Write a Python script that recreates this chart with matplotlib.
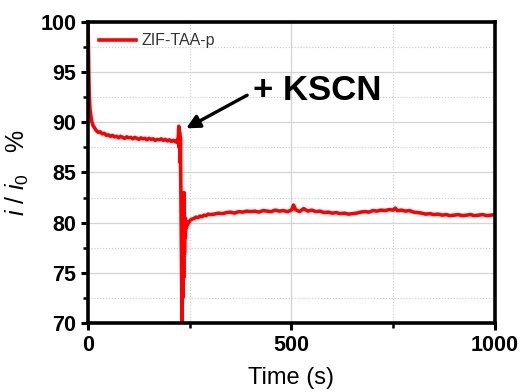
import matplotlib.pyplot as plt
from matplotlib.ticker import MultipleLocator

# Chronoamperometry trace
time_s = [0, 1, 2, 3, 4, 5, 7, 9, 12, 15, 20, 25, 30, 35, 40, 45, 50, 55, 60,
          65, 70, 75, 80, 85, 90, 95, 100, 105, 110, 115, 120, 125, 130, 135,
          140, 145, 150, 155, 160, 165, 170, 175, 180, 185, 190, 195, 200, 205,
          210, 215, 218, 220, 222, 223, 224, 225, 226, 227, 228, 229, 230, 231,
          232, 233, 234, 235, 236, 237, 238, 239, 240, 242, 244, 246, 250, 255,
          260, 265, 270, 275, 280, 285, 290, 295,
          300, 310, 320, 330, 340, 350, 360, 370, 380, 390, 400, 410, 420, 430,
          440, 450, 460, 470, 480, 490, 500, 505, 510, 520, 530, 540, 550, 560,
          570, 580, 590, 600, 610, 620, 630, 640, 650, 660, 670, 680, 690, 700,
          710, 720, 730, 740, 750, 755, 760, 770, 780, 790, 800, 810, 820, 830,
          840, 850, 860, 870, 880, 890, 900, 910, 920, 930, 940, 950, 960, 970,
          980, 990, 1000]
current_pct = [100, 97.0, 94.5, 92.8, 91.8, 91.2, 90.6, 90.1, 89.7, 89.5, 89.2,
               89.0, 89.05, 88.85, 88.9, 88.7, 88.75, 88.6, 88.7, 88.55, 88.6,
               88.45, 88.6, 88.5, 88.4, 88.55, 88.45, 88.5, 88.35, 88.5, 88.4,
               88.3, 88.45, 88.35, 88.4, 88.25, 88.4, 88.3, 88.35, 88.2, 88.3,
               88.25, 88.35, 88.2, 88.3, 88.15, 88.25, 88.1, 88.2, 88.05, 88.2,
               88.0, 88.6, 89.6, 87.5, 89.0, 86.0, 88.5, 84.0, 80.0, 76.0, 70.0,
               78.0, 72.5, 82.0, 74.5, 83.0, 77.0, 80.5, 78.5, 80.0, 79.5, 80.1,
               79.9, 80.2, 80.35, 80.4, 80.55, 80.5, 80.65, 80.6, 80.75, 80.7,
               80.85,
               80.8, 80.85, 80.95, 80.9, 81.0, 81.05, 80.95, 81.1, 81.05, 81.15,
               81.1, 81.15, 81.05, 81.2, 81.15, 81.1, 81.25, 81.15, 81.2, 81.1,
               81.25, 81.75, 81.3, 81.1, 81.4, 81.15, 81.25, 81.1, 81.15, 81.0,
               81.05, 80.95, 81.0, 80.9, 80.95, 80.85, 80.9, 80.95, 81.05, 81.1,
               81.05, 81.2, 81.15, 81.25, 81.2, 81.3, 81.25, 81.45, 81.2, 81.25,
               81.15, 81.2, 81.05, 81.0, 80.95, 80.85, 80.9, 80.8, 80.85, 80.75,
               80.8, 80.7, 80.75, 80.8, 80.7, 80.75, 80.8, 80.7, 80.75, 80.8,
               80.7, 80.75, 80.8]
x_ticks = [0, 500, 1000]
y_ticks = [70, 75, 80, 85, 90, 95, 100]

plt.rcParams["font.family"] = ["Liberation Sans", "DejaVu Sans"]
plt.rcParams["mathtext.fontset"] = "custom"
plt.rcParams["mathtext.it"] = "Liberation Sans:italic"
plt.rcParams["mathtext.rm"] = "Liberation Sans"

fig = plt.figure(figsize=(5.21, 3.92), dpi=100)
ax = fig.add_axes([0.169, 0.176, 0.781, 0.768])

ax.plot(time_s, current_pct, color="#ff0000", linewidth=2.6, label="ZIF-TAA-p")

ax.set_xlim(0, 1000)
ax.set_ylim(70, 100)
ax.set_xticks(x_ticks)
ax.set_yticks(y_ticks)
ax.xaxis.set_minor_locator(MultipleLocator(250))
ax.yaxis.set_minor_locator(MultipleLocator(2.5))

# Grid: solid major, dotted minor
ax.grid(True, which="major", color="#d4d4d4", linewidth=0.9)
ax.grid(True, which="minor", color="#cccccc", linewidth=0.8, linestyle=":")
ax.set_axisbelow(True)

for s in ax.spines.values():
    s.set_linewidth(2.6)
ax.tick_params(which="major", direction="out", length=5, width=2.2,
               labelsize=15.5, top=False, right=False)
ax.tick_params(which="minor", direction="out", length=3.5, width=1.8,
               top=False, right=False)
for lab in ax.get_xticklabels() + ax.get_yticklabels():
    lab.set_fontweight("bold")

ax.set_xlabel("Time (s)", fontsize=17, labelpad=8)
ax.set_ylabel(r"$i\ /\ i_0$   %", fontsize=18, labelpad=7)

ax.legend(loc="upper left", frameon=False, fontsize=11.5, handlelength=2.3,
          borderaxespad=0.3, handletextpad=0.35, labelcolor="#333333")

# Annotation text and arrow
ax.text(563, 93.2, "+ KSCN", fontsize=25, fontweight="bold",
        ha="center", va="center")
ax.annotate("", xy=(241, 89.4), xytext=(391, 92.7),
            arrowprops=dict(arrowstyle="-|>,head_length=0.8,head_width=0.4",
                            color="black", lw=2.4, shrinkA=0, shrinkB=0))

fig.savefig("out.png", dpi=100)
